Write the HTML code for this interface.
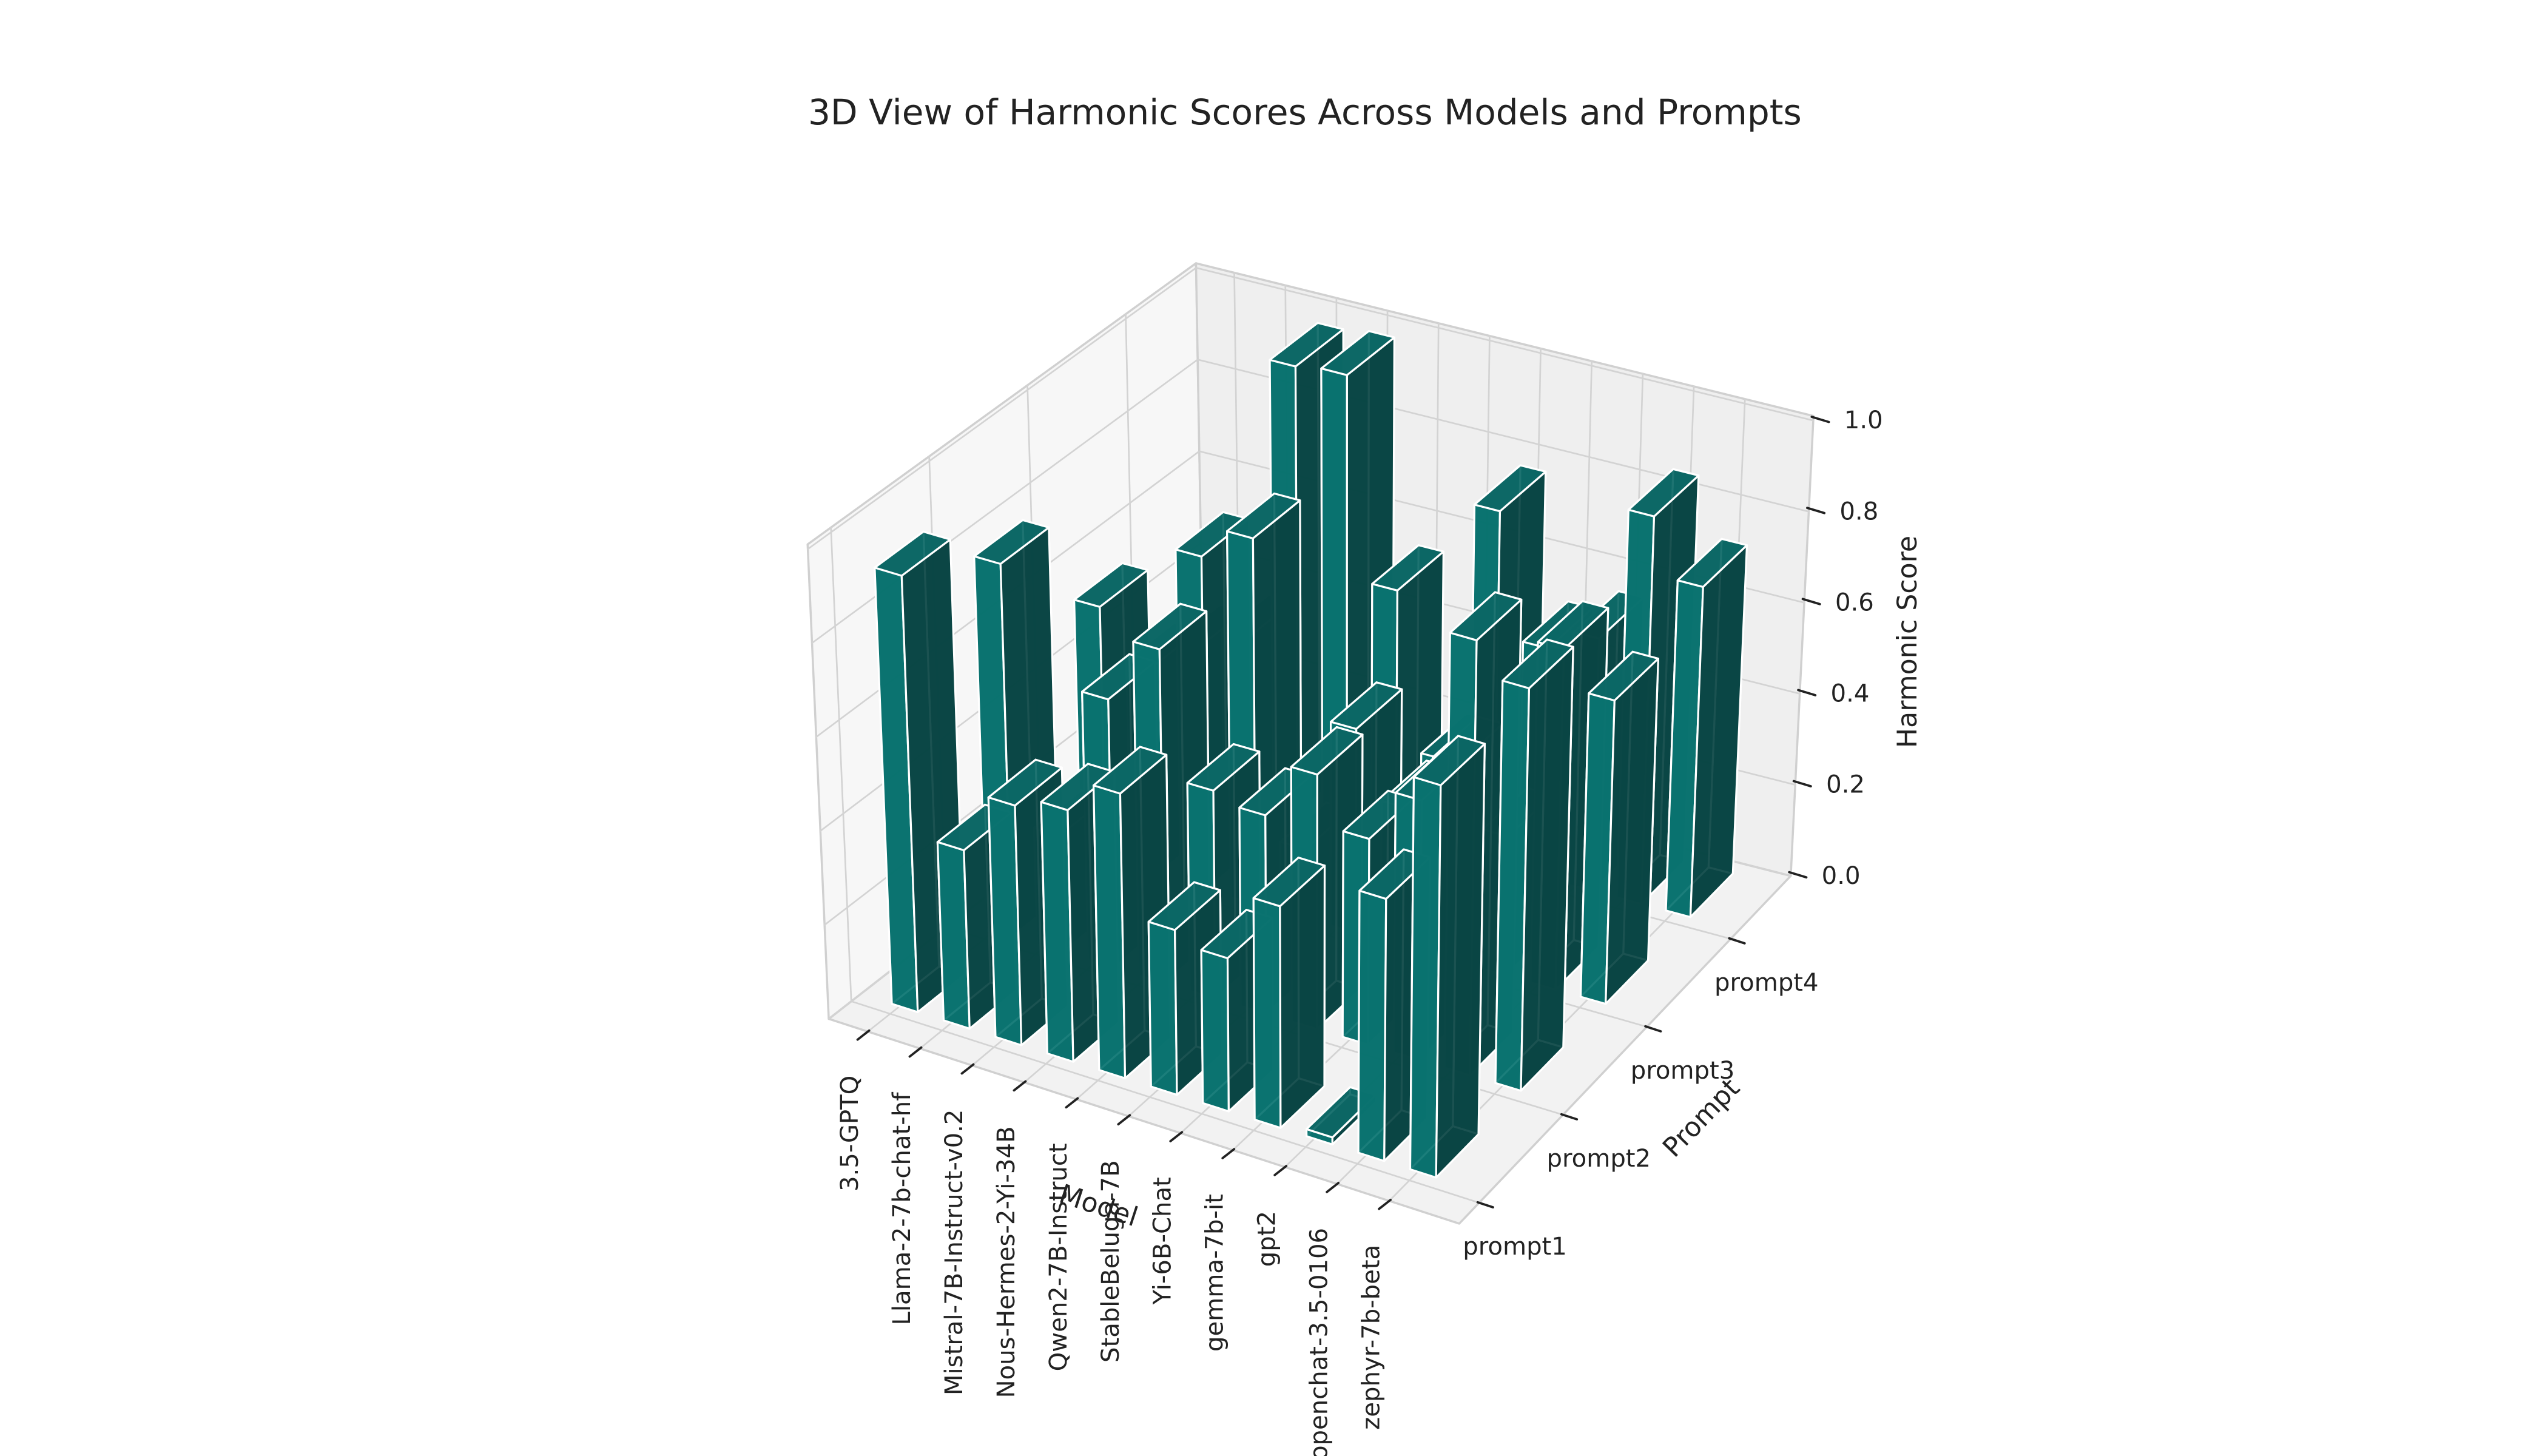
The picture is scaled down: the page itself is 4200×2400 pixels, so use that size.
<!DOCTYPE html>
<html>
<head>
<meta charset="utf-8">
<title>3D View of Harmonic Scores Across Models and Prompts</title>
<style>
  html, body { margin: 0; padding: 0; background: #ffffff; }
  #chart { display: block; }
  text { font-family: "DejaVu Sans", "Liberation Sans", sans-serif; fill: #222222; }
</style>
</head>
<body>
<svg id="chart" xmlns="http://www.w3.org/2000/svg" width="4200" height="2400" viewBox="0 0 1568 896">
  <rect x="0" y="0" width="1568" height="896" fill="#ffffff"/>
  <text x="803" y="69" font-size="21.7" text-anchor="middle" dominant-baseline="central">3D View of Harmonic Scores Across Models and Prompts</text>
  <g id="panes"></g>
  <g id="grid"></g>
  <g id="bars"></g>
  <g id="axes"></g>
  <text x="676" y="742" font-size="16.5" text-anchor="middle" dominant-baseline="central" transform="rotate(18 676 742)">Model</text>
  <text x="1047" y="688" font-size="16.5" text-anchor="middle" dominant-baseline="central" transform="rotate(-46 1047 688)">Prompt</text>
  <text x="1174" y="395" font-size="16.5" text-anchor="middle" dominant-baseline="central" transform="rotate(-90 1174 395)">Harmonic Score</text>
</svg>
<script>
// ---------- data ----------
const models = ["3.5-GPTQ", "Llama-2-7b-chat-hf", "Mistral-7B-Instruct-v0.2", "Nous-Hermes-2-Yi-34B", "Qwen2-7B-Instruct", "StableBeluga-7B", "Yi-6B-Chat", "gemma-7b-it", "gpt2", "openchat-3.5-0106", "zephyr-7b-beta"];
const prompts = ["prompt1", "prompt2", "prompt3", "prompt4"];
const scoresPrompt1 = [0.93, 0.38, 0.51, 0.535, 0.605, 0.35, 0.325, 0.47, 0.015, 0.555, 0.83];
const scoresPrompt2 = [0.80, 0.25, 0.575, 0.715, 0.445, 0.425, 0.545, 0.44, 0.555, 0.93, 0.86];
const scoresPrompt3 = [0.55, 0.45, 0.72, 0.79, 0.15, 0.44, 0.30, 0.425, 0.30, 0.735, 0.655];
const scoresPrompt4 = [0.30, 0.35, 0.97, 0.98, 0.54, 0.20, 0.77, 0.50, 0.55, 0.845, 0.72];
const scoreSeries = [scoresPrompt1, scoresPrompt2, scoresPrompt3, scoresPrompt4];
const zTicks = [0.0, 0.2, 0.4, 0.6, 0.8, 1.0];
const zTickLabels = ["0.0", "0.2", "0.4", "0.6", "0.8", "1.0"];

// ---------- projection (box corners in view units) ----------
const NS = "http://www.w3.org/2000/svg";
const cA = [510, 627], cAp = [497, 335];
const cB = [898, 753], cBp = [902, 458];
const cD = [741, 447], cDp = [736, 162];
const cC = [1102, 539], cCp = [1116, 256];
const zMax = 1.01;
const barWidth = 0.5, barDepth = 0.5, barOffsetP = 0.1, barOffsetM = -0.15;

function bil(p00, p10, p01, p11, u, v) {
  return [
    p00[0] * (1 - u) * (1 - v) + p10[0] * u * (1 - v) + p01[0] * (1 - u) * v + p11[0] * u * v,
    p00[1] * (1 - u) * (1 - v) + p10[1] * u * (1 - v) + p01[1] * (1 - u) * v + p11[1] * u * v
  ];
}
function proj(u, v, w) {
  const b = bil(cA, cB, cD, cC, u, v);
  const t = bil(cAp, cBp, cDp, cCp, u, v);
  return [b[0] + (t[0] - b[0]) * w, b[1] + (t[1] - b[1]) * w];
}
function U(m) { return 0.062 + 0.0827 * m; }
function V(p) { return 0.06 + 0.253 * p; }
function W(z) { return z / zMax; }
function pt(m, p, z) { return proj(U(m), V(p), W(z)); }
function ptsStr(list) { return list.map(q => q[0].toFixed(2) + "," + q[1].toFixed(2)).join(" "); }

const panes = document.getElementById("panes");
const grid = document.getElementById("grid");
const barsG = document.getElementById("bars");
const axesG = document.getElementById("axes");

function poly(parent, list, fill, stroke, sw) {
  const e = document.createElementNS(NS, "polygon");
  e.setAttribute("points", ptsStr(list));
  e.setAttribute("fill", fill);
  e.setAttribute("stroke", stroke);
  e.setAttribute("stroke-width", sw);
  e.setAttribute("stroke-linejoin", "round");
  parent.appendChild(e);
  return e;
}
function line(parent, a, b, stroke, sw) {
  const e = document.createElementNS(NS, "line");
  e.setAttribute("x1", a[0].toFixed(2));
  e.setAttribute("y1", a[1].toFixed(2));
  e.setAttribute("x2", b[0].toFixed(2));
  e.setAttribute("y2", b[1].toFixed(2));
  e.setAttribute("stroke", stroke);
  e.setAttribute("stroke-width", sw);
  e.setAttribute("stroke-linecap", "round");
  parent.appendChild(e);
  return e;
}
function txt(parent, x, y, s, size, anchor, rot) {
  const e = document.createElementNS(NS, "text");
  e.setAttribute("x", x.toFixed(2));
  e.setAttribute("y", y.toFixed(2));
  e.setAttribute("font-size", size);
  e.setAttribute("text-anchor", anchor);
  e.setAttribute("dominant-baseline", "central");
  if (rot) e.setAttribute("transform", "rotate(" + rot + " " + x.toFixed(2) + " " + y.toFixed(2) + ")");
  e.textContent = s;
  parent.appendChild(e);
  return e;
}

// ---------- panes ----------
const floorPane = poly(panes, [proj(0,0,0), proj(1,0,0), proj(1,1,0), proj(0,1,0)], "#f2f2f2", "#d0d0d0", 1.3);


const leftPane = poly(panes, [proj(0,0,0), proj(0,1,0), proj(0,1,1), proj(0,0,1)], "#f7f7f7", "#d0d0d0", 1.3);


const backPane = poly(panes, [proj(0,1,0), proj(1,1,0), proj(1,1,1), proj(0,1,1)], "#efefef", "#d0d0d0", 1.3);



// ---------- grid ----------
const gridColor = "#d3d3d3";
models.forEach((name, i) => {
  const g1 = line(grid, proj(U(i),0,0), proj(U(i),1,0), gridColor, 1.0);
  
  
  const g2 = line(grid, proj(U(i),1,0), proj(U(i),1,1), gridColor, 1.0);
  
  
});
prompts.forEach((name, j) => {
  const g1 = line(grid, proj(0,V(j),0), proj(1,V(j),0), gridColor, 1.0);
  
  
  const g2 = line(grid, proj(0,V(j),0), proj(0,V(j),1), gridColor, 1.0);
  
  
});
zTicks.forEach((z) => {
  const g1 = line(grid, proj(0,0,W(z)), proj(0,1,W(z)), gridColor, 1.0);
  
  
  const g2 = line(grid, proj(0,1,W(z)), proj(1,1,W(z)), gridColor, 1.0);
  
  
});

// ---------- bars ----------
const faceColors = { bottom: "#083a39", back: "#0a4a48", left: "#0b5855", front: "#0a7471", right: "#0a4544", top: "#0c6866" };
const barList = [];
scoreSeries.forEach((series, j) => {
  series.forEach((h, i) => {
    const c = pt(i + barOffsetM + barWidth / 2, j + barOffsetP + barDepth / 2, 0);
    barList.push({ i: i, j: j, h: h, depth: c[1] });
  });
});
barList.sort((a, b) => a.depth - b.depth);

barList.forEach(bar => {
  const m0 = bar.i + barOffsetM, m1 = m0 + barWidth;
  const p0 = bar.j + barOffsetP, p1 = p0 + barDepth;
  const h = Math.max(bar.h, 0.004);
  const g = document.createElementNS(NS, "g");
  
  
  barsG.appendChild(g);
  const tt = document.createElementNS(NS, "title");
  tt.textContent = models[bar.i] + " / " + prompts[bar.j] + ": " + bar.h.toFixed(3);
  g.appendChild(tt);
  const faces = [
    ["bottom", [pt(m0,p0,0), pt(m1,p0,0), pt(m1,p1,0), pt(m0,p1,0)]],
    ["back",   [pt(m0,p1,0), pt(m1,p1,0), pt(m1,p1,h), pt(m0,p1,h)]],
    ["left",   [pt(m0,p0,0), pt(m0,p1,0), pt(m0,p1,h), pt(m0,p0,h)]],
    ["front",  [pt(m0,p0,0), pt(m1,p0,0), pt(m1,p0,h), pt(m0,p0,h)]],
    ["right",  [pt(m1,p0,0), pt(m1,p1,0), pt(m1,p1,h), pt(m1,p0,h)]],
    ["top",    [pt(m0,p0,h), pt(m1,p0,h), pt(m1,p1,h), pt(m0,p1,h)]]
  ];
  faces.forEach(f => {
    const e = poly(g, f[1], faceColors[f[0]], "#ffffff", 1.2);
    e.setAttribute("fill-opacity", "0.93");
    
    
  });
});

// ---------- ticks & tick labels ----------
const tickColor = "#222222";
const mDir = [-0.79, 0.62];
models.forEach((name, i) => {
  const a = proj(U(i), 0, 0);
  const t = line(axesG, [a[0] - mDir[0] * 1, a[1] - mDir[1] * 1], [a[0] + mDir[0] * 8, a[1] + mDir[1] * 8], tickColor, 1.4);
  
  
  const lab = txt(axesG, a[0] - 11, a[1] + 27, name, 15, "end", -90);
  
  
});
const pDir = [0.95, 0.31];
prompts.forEach((name, j) => {
  const a = proj(1, V(j), 0);
  const t = line(axesG, [a[0] - pDir[0] * 1, a[1] - pDir[1] * 1], [a[0] + pDir[0] * 9, a[1] + pDir[1] * 9], tickColor, 1.4);
  
  
  const lab = txt(axesG, a[0] + 22, a[1] + 27, name, 15, "middle", 0);
  
  
});
const zDir = [0.96, 0.29];
zTicks.forEach((z, k) => {
  const a = proj(1, 1, W(z));
  const t = line(axesG, [a[0] - zDir[0] * 1, a[1] - zDir[1] * 1 - 2], [a[0] + zDir[0] * 10, a[1] + zDir[1] * 10 - 2], tickColor, 1.4);
  
  
  const lab = txt(axesG, a[0] + 19, a[1], zTickLabels[k], 15, "start", 0);
  
  
});
</script>
</body>
</html>
